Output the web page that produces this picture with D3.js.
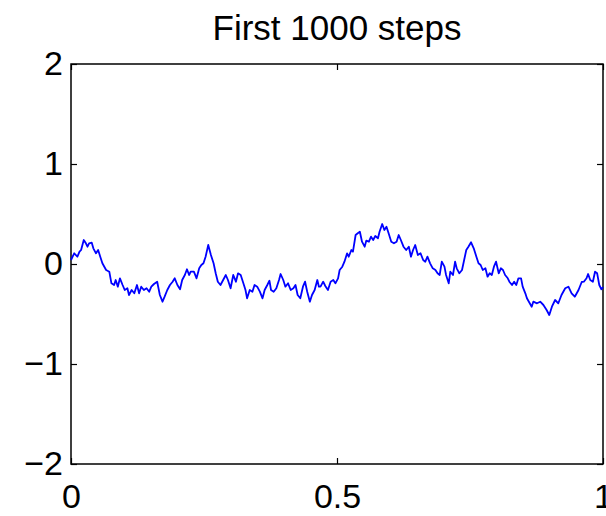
<!DOCTYPE html>
<html>
<head>
<meta charset="utf-8">
<script src="https://cdn.jsdelivr.net/npm/d3@7"></script>
<style>
  html, body { margin: 0; padding: 0; background: #fff; }
  svg text { font-family: "Liberation Sans", Arial, Helvetica, sans-serif; fill: #000; }
</style>
</head>
<body>
<div id="chart"></div>
<script>
// random walk: [step, value], step 0..1000
const walk = [
  [0, 0.04], [6, 0.107], [12, 0.073], [16, 0.123], [19, 0.14], [24, 0.24], [28, 0.207],
  [31, 0.173], [34, 0.207], [39, 0.213], [42, 0.157], [47, 0.107], [51, 0.14], [55, 0.073],
  [59, 0.007], [66, -0.06], [72, -0.077], [76, -0.193], [81, -0.21], [84, -0.16], [88, -0.227],
  [92, -0.143], [97, -0.21], [101, -0.26], [106, -0.243], [109, -0.31], [114, -0.26],
  [119, -0.293], [124, -0.21], [128, -0.293], [132, -0.227], [137, -0.26], [142, -0.243],
  [147, -0.277], [151, -0.227], [156, -0.2], [162, -0.177], [167, -0.31], [172, -0.377],
  [176, -0.327], [181, -0.26], [186, -0.21], [191, -0.177], [195, -0.143], [200, -0.21],
  [205, -0.253], [209, -0.16], [214, -0.11], [218, -0.053], [222, -0.11], [225, -0.077],
  [231, -0.077], [236, -0.143], [241, -0.043], [245, -0.01], [249, 0.007], [253, 0.073],
  [258, 0.19], [263, 0.09], [268, 0.007], [272, -0.093], [276, -0.177], [281, -0.21],
  [286, -0.16], [291, -0.11], [295, -0.16], [300, -0.243], [305, -0.11], [310, -0.177],
  [314, -0.093], [319, -0.11], [324, -0.193], [328, -0.26], [331, -0.343], [336, -0.26],
  [341, -0.277], [345, -0.21], [350, -0.227], [355, -0.277], [360, -0.343], [364, -0.26],
  [369, -0.21], [373, -0.167], [376, -0.26], [381, -0.277], [386, -0.243], [391, -0.16],
  [394, -0.1], [399, -0.16], [403, -0.227], [408, -0.193], [413, -0.26], [418, -0.243],
  [422, -0.21], [426, -0.31], [431, -0.343], [436, -0.227], [440, -0.177], [444, -0.277],
  [449, -0.377], [453, -0.31], [458, -0.26], [463, -0.16], [466, -0.227], [469, -0.227],
  [474, -0.177], [478, -0.22], [483, -0.26], [488, -0.177], [493, -0.16], [497, -0.193],
  [502, -0.143], [505, -0.06], [510, -0.027], [514, 0.023], [519, 0.107], [522, 0.073],
  [527, 0.14], [530, 0.123], [535, 0.29], [539, 0.307], [543, 0.323], [547, 0.223],
  [552, 0.173], [555, 0.233], [560, 0.223], [564, 0.273], [568, 0.24], [572, 0.28],
  [577, 0.257], [580, 0.323], [585, 0.4], [589, 0.34], [593, 0.373], [597, 0.307],
  [602, 0.223], [607, 0.207], [612, 0.223], [616, 0.29], [620, 0.24], [625, 0.173],
  [630, 0.14], [635, 0.173], [639, 0.073], [643, 0.14], [647, 0.19], [652, 0.09],
  [657, 0.107], [662, 0.04], [666, 0.023], [670, 0.073], [675, 0.007], [680, -0.043],
  [685, -0.06], [689, -0.093], [693, -0.11], [697, 0.023], [702, -0.027], [705, -0.11],
  [710, -0.193], [713, -0.077], [718, -0.11], [722, 0.023], [725, -0.043], [730, -0.093],
  [735, -0.06], [739, 0.04], [743, 0.14], [747, 0.173], [752, 0.217], [757, 0.157],
  [762, 0.073], [766, 0.007], [770, -0.01], [774, -0.06], [779, -0.043], [783, -0.127],
  [787, -0.093], [791, -0.11], [795, -0.027], [799, 0.023], [804, -0.093], [808, -0.043],
  [812, -0.06], [816, -0.11], [821, -0.143], [824, -0.177], [829, -0.21], [833, -0.177],
  [837, -0.21], [841, -0.143], [846, -0.143], [849, -0.227], [854, -0.293], [857, -0.343],
  [866, -0.427], [869, -0.377], [876, -0.393], [882, -0.377], [888, -0.41], [894, -0.46],
  [899, -0.51], [904, -0.427], [910, -0.36], [916, -0.393], [922, -0.31], [929, -0.243],
  [935, -0.227], [941, -0.293], [947, -0.327], [954, -0.26], [960, -0.18], [964, -0.177],
  [969, -0.143], [972, -0.1], [976, -0.16], [981, -0.177], [985, -0.077], [989, -0.093],
  [993, -0.21], [997, -0.253], [1000, -0.23]
];
const nSteps = 1000;
const xTicks = [0, 0.5, 1];
const yTicks = [-2, -1, 0, 1, 2];
const titleText = "First 1000 steps";

const W = 606, H = 516;
const margin = { top: 64, right: 3, bottom: 52, left: 71 };
const iw = W - margin.left - margin.right;
const ih = H - margin.top - margin.bottom;

const svg = d3.select("#chart").append("svg")
  .attr("width", W).attr("height", H);

const g = svg.append("g").attr("transform", `translate(${margin.left},${margin.top})`);

const x = d3.scaleLinear().domain([0, 1]).range([0, iw]);
const y = d3.scaleLinear().domain([-2, 2]).range([ih, 0]);

const fmt = d => String(d).replace("-", "\u2212");

// axes, ticks pointing inwards (matlab style)
const styleAxis = sel => {
  sel.selectAll("text").attr("font-size", 34);
  sel.selectAll("line").attr("stroke", "#000").attr("stroke-width", 1.2);
  sel.select(".domain").remove();
};

g.append("g").attr("transform", `translate(0,${ih})`)
  .call(d3.axisBottom(x).tickValues(xTicks).tickSize(-6).tickPadding(20).tickFormat(fmt))
  .call(styleAxis)
  .selectAll("text").attr("dy", "0.71em");

g.append("g")
  .call(d3.axisTop(x).tickValues(xTicks).tickSize(-6).tickFormat(""))
  .call(styleAxis);

g.append("g")
  .call(d3.axisLeft(y).tickValues(yTicks).tickSize(-6).tickPadding(8).tickFormat(fmt))
  .call(styleAxis);

g.append("g").attr("transform", `translate(${iw},0)`)
  .call(d3.axisRight(y).tickValues(yTicks).tickSize(-6).tickFormat(""))
  .call(styleAxis);

// frame
g.append("rect")
  .attr("width", iw).attr("height", ih)
  .attr("fill", "none").attr("stroke", "#000").attr("stroke-width", 1.5);

// the walk
const line = d3.line()
  .x(d => x(d[0] / nSteps))
  .y(d => y(d[1]));

g.append("path")
  .datum(walk)
  .attr("fill", "none")
  .attr("stroke", "#0000ff")
  .attr("stroke-width", 1.8)
  .attr("stroke-linejoin", "round")
  .attr("d", line);

svg.append("text")
  .attr("x", margin.left + iw / 2)
  .attr("y", 40)
  .attr("text-anchor", "middle")
  .attr("font-size", 35)
  .text(titleText);
</script>
</body>
</html>
